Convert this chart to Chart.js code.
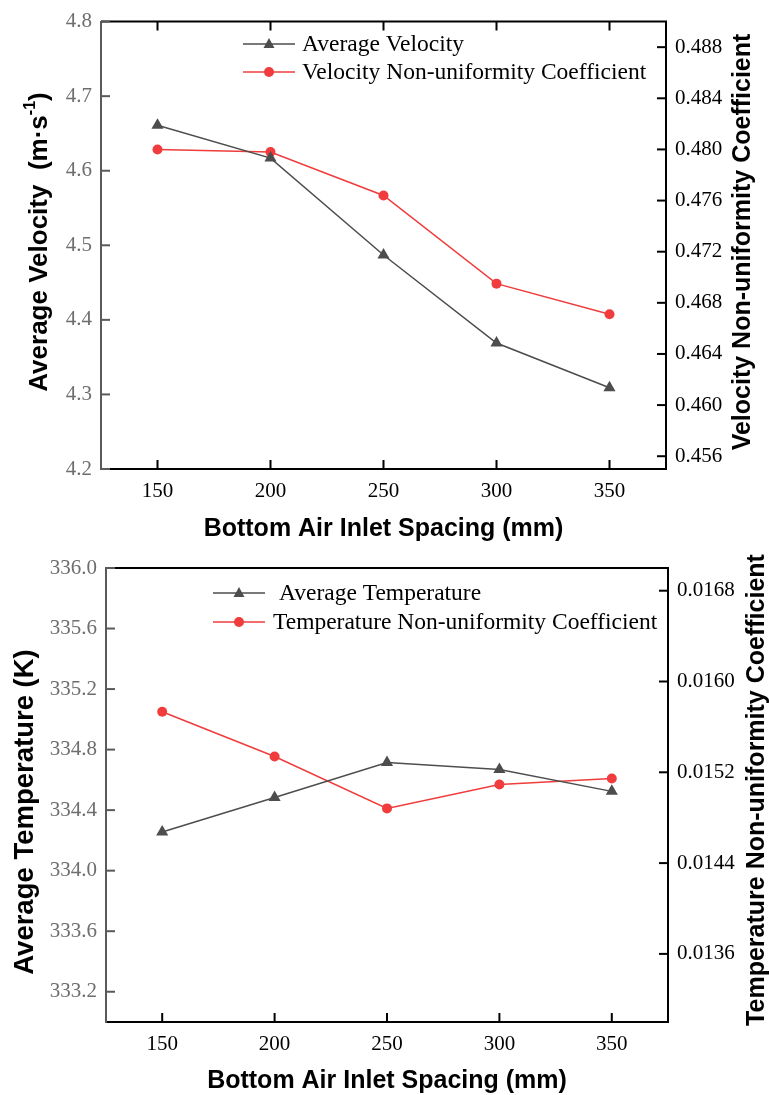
<!DOCTYPE html>
<html>
<head>
<meta charset="utf-8">
<script src="https://cdn.jsdelivr.net/npm/chart.js@4"></script>
<style>
  html, body { margin: 0; padding: 0; background: #fff; }
  .box { position: relative; width: 769px; }
  #topBox { height: 545px; }
  #bottomBox { height: 550px; }
</style>
</head>
<body>
<div class="box" id="topBox"><canvas id="velChart"></canvas></div>
<div class="box" id="bottomBox"><canvas id="tempChart"></canvas></div>
<script>
// x categories (mm)
const spacing = [150, 200, 250, 300, 350];

// top chart
const avgVelocity = [4.661, 4.617, 4.487, 4.369, 4.309];
const velocityCoeff = [0.4800, 0.4798, 0.4764, 0.4695, 0.4671];
const velocityTicks = [4.2, 4.3, 4.4, 4.5, 4.6, 4.7, 4.8];
const velocityCoeffTicks = [0.456, 0.460, 0.464, 0.468, 0.472, 0.476, 0.480, 0.484, 0.488];

// bottom chart
const avgTemperature = [334.256, 334.483, 334.714, 334.668, 334.524];
const temperatureCoeff = [0.015733, 0.015339, 0.014882, 0.015093, 0.015146];
const temperatureTicks = [333.2, 333.6, 334.0, 334.4, 334.8, 335.2, 335.6, 336.0];
const temperatureCoeffTicks = [0.0136, 0.0144, 0.0152, 0.0160, 0.0168];

const SERIF = '"Liberation Serif", "Times New Roman", serif';
const SANS = '"Liberation Sans", Arial, sans-serif';
const GRAY = '#4d4d4d';
const RED = '#f03c3c';
const AXIS_GRAY = '#5a5a5a';

// draws inward ticks, top frame line, axis titles and the in-plot legend
const framePlugin = {
  id: 'frame',
  afterDraw(chart, args, o) {
    const ctx = chart.ctx;
    const a = chart.chartArea;
    const sx = chart.scales.x, sy = chart.scales.y, sy1 = chart.scales.y1;
    const TL = 9;
    ctx.save();
    ctx.lineWidth = 2;
    ctx.strokeStyle = '#000';
    ctx.beginPath();
    ctx.moveTo(a.left, a.top); ctx.lineTo(a.right + 1, a.top);
    ctx.stroke();

    sx.ticks.forEach(t => {
      const px = sx.getPixelForValue(t.value);
      ctx.beginPath();
      ctx.moveTo(px, a.bottom); ctx.lineTo(px, a.bottom - TL);
      if (o.topTicks) { ctx.moveTo(px, a.top); ctx.lineTo(px, a.top + TL); }
      ctx.stroke();
    });
    sy1.ticks.forEach(t => {
      const py = sy1.getPixelForValue(t.value);
      ctx.beginPath(); ctx.moveTo(a.right, py); ctx.lineTo(a.right - TL, py); ctx.stroke();
    });
    ctx.strokeStyle = AXIS_GRAY;
    sy.ticks.forEach(t => {
      const py = sy.getPixelForValue(t.value);
      ctx.beginPath(); ctx.moveTo(a.left, py); ctx.lineTo(a.left + TL, py); ctx.stroke();
    });

    // axis titles
    ctx.fillStyle = '#000';
    ctx.font = 'bold 25px ' + SANS;
    ctx.textAlign = 'center';
    ctx.textBaseline = 'middle';
    ctx.fillText(o.xTitle, (a.left + a.right) / 2, o.xTitleY);

    const drawVertical = (parts, size, x, cy) => {
      ctx.save();
      ctx.translate(x, cy);
      ctx.rotate(-Math.PI / 2);
      ctx.textAlign = 'left';
      const fontFor = p => 'bold ' + (p.sup ? Math.round(size * 0.6) : size) + 'px ' + SANS;
      let total = 0;
      parts.forEach(p => { ctx.font = fontFor(p); total += ctx.measureText(p.t).width; });
      let cx = -total / 2;
      parts.forEach(p => {
        ctx.font = fontFor(p);
        ctx.fillText(p.t, cx, p.sup ? -size * 0.36 : 0);
        cx += ctx.measureText(p.t).width;
      });
      ctx.restore();
    };
    drawVertical(o.leftTitle, o.leftTitleSize, o.leftTitleX, o.leftTitleCY);
    drawVertical(o.rightTitle, 25, o.rightTitleX, o.rightTitleCY);

    // legend
    const lg = o.legend;
    chart.data.datasets.forEach((ds, i) => {
      const y = lg.ys[i];
      ctx.strokeStyle = ds.borderColor;
      ctx.fillStyle = ds.backgroundColor;
      ctx.lineWidth = 1.5;
      ctx.beginPath(); ctx.moveTo(lg.x0, y); ctx.lineTo(lg.x1, y); ctx.stroke();
      const mx = (lg.x0 + lg.x1) / 2;
      ctx.beginPath();
      if (ds.pointStyle === 'triangle') {
        ctx.moveTo(mx, y - 6); ctx.lineTo(mx + 5.5, y + 4); ctx.lineTo(mx - 5.5, y + 4); ctx.closePath();
      } else {
        ctx.arc(mx, y, 5, 0, Math.PI * 2);
      }
      ctx.fill();
      ctx.fillStyle = '#000';
      ctx.font = '23.5px ' + SERIF;
      ctx.textAlign = 'left';
      ctx.textBaseline = 'middle';
      ctx.fillText(ds.label, lg.textX[i], y + 1);
    });
    ctx.restore();
  }
};

function buildChart(id, c) {
  const ctx = document.getElementById(id).getContext('2d');
  return new Chart(ctx, {
    type: 'line',
    data: {
      datasets: [
        {
          label: c.labels[0],
          data: spacing.map((x, i) => ({ x: x, y: c.left[i] })),
          yAxisID: 'y',
          borderColor: GRAY, backgroundColor: GRAY,
          borderWidth: 1.5, pointStyle: 'triangle', pointRadius: 7, pointBorderWidth: 0
        },
        {
          label: c.labels[1],
          data: spacing.map((x, i) => ({ x: x, y: c.right[i] })),
          yAxisID: 'y1',
          borderColor: RED, backgroundColor: RED,
          borderWidth: 1.5, pointStyle: 'circle', pointRadius: 5, pointBorderWidth: 0
        }
      ]
    },
    options: {
      responsive: true,
      maintainAspectRatio: false,
      animation: false,
      layout: { padding: { top: c.area.top, left: 0, right: 0, bottom: 0 } },
      plugins: {
        legend: { display: false },
        tooltip: { enabled: false },
        frame: c.frame
      },
      scales: {
        x: {
          type: 'linear', position: 'bottom', min: 125, max: 375,
          afterBuildTicks: s => { s.ticks = spacing.map(v => ({ value: v })); },
          afterFit: s => { s.height = c.area.xHeight; },
          grid: { display: false, drawTicks: false },
          border: { display: true, color: '#000', width: 2 },
          ticks: { color: '#000', padding: 10, font: { family: SERIF, size: 21 } }
        },
        y: {
          type: 'linear', position: 'left', min: c.leftRange[0], max: c.leftRange[1],
          afterBuildTicks: s => { s.ticks = c.leftTicks.map(v => ({ value: v })); },
          afterFit: s => { s.width = c.area.left; },
          grid: { display: false, drawTicks: false },
          border: { display: true, color: AXIS_GRAY, width: 2 },
          ticks: { color: '#6e6e6e', padding: 9, font: { family: SERIF, size: 21 },
                   callback: v => v.toFixed(1) }
        },
        y1: {
          type: 'linear', position: 'right', min: c.rightRange[0], max: c.rightRange[1],
          afterBuildTicks: s => { s.ticks = c.rightTicks.map(v => ({ value: v })); },
          afterFit: s => { s.width = c.area.right; },
          grid: { display: false, drawTicks: false },
          border: { display: true, color: '#000', width: 2 },
          ticks: { color: '#000', padding: 9, font: { family: SERIF, size: 21 },
                   callback: v => v.toFixed(c.rightDigits) }
        }
      }
    },
    plugins: [framePlugin]
  });
}

buildChart('velChart', {
  labels: ['Average Velocity', 'Velocity Non-uniformity Coefficient'],
  left: avgVelocity, right: velocityCoeff,
  leftRange: [4.2, 4.8], rightRange: [0.455, 0.490],
  leftTicks: velocityTicks, rightTicks: velocityCoeffTicks, rightDigits: 3,
  area: { top: 15, left: 101, right: 103, xHeight: 76 },
  frame: {
    topTicks: true,
    xTitle: 'Bottom Air Inlet Spacing (mm)', xTitleY: 529,
    leftTitle: [{ t: 'Average Velocity  (m\u00b7s' }, { t: '-1', sup: true }, { t: ')' }],
    leftTitleSize: 26, leftTitleX: 40, leftTitleCY: 242,
    rightTitle: [{ t: 'Velocity Non-uniformity Coefficient' }],
    rightTitleX: 743, rightTitleCY: 242,
    legend: { x0: 243, x1: 295, ys: [44, 72], textX: [302, 302] }
  }
});

buildChart('tempChart', {
  labels: ['Average Temperature', 'Temperature Non-uniformity Coefficient'],
  left: avgTemperature, right: temperatureCoeff,
  leftRange: [333.0, 336.0], rightRange: [0.0130, 0.0170],
  leftTicks: temperatureTicks, rightTicks: temperatureCoeffTicks, rightDigits: 4,
  area: { top: 23, left: 106, right: 101, xHeight: 73 },
  frame: {
    topTicks: false,
    xTitle: 'Bottom Air Inlet Spacing (mm)', xTitleY: 536,
    leftTitle: [{ t: 'Average Temperature (K)' }],
    leftTitleSize: 27.5, leftTitleX: 25, leftTitleCY: 267,
    rightTitle: [{ t: 'Temperature Non-uniformity Coefficient' }],
    rightTitleX: 757, rightTitleCY: 245,
    legend: { x0: 213, x1: 265, ys: [48, 77], textX: [279, 273] }
  }
});
</script>
</body>
</html>
